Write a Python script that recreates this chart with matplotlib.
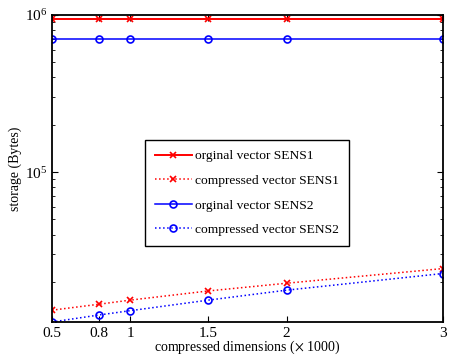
import matplotlib
matplotlib.use("Agg")
import matplotlib.pyplot as plt
from matplotlib.ticker import LogLocator, NullFormatter

plt.rcParams['font.family'] = ['Liberation Serif', 'DejaVu Serif']
plt.rcParams['mathtext.fontset'] = 'stix'

dims = [0.5, 0.8, 1, 1.5, 2, 3]
xtick_labels = ['0.5', '0.8', '1', '1.5', '2', '3']
orig_sens1 = [943000] * 6
comp_sens1 = [13200, 14400, 15300, 17500, 19600, 24300]
orig_sens2 = [703000] * 6
comp_sens2 = [11100, 12300, 13100, 15300, 17700, 22600]

fig = plt.figure(figsize=(4.54, 3.56), dpi=100)
ax = fig.add_axes([0.1145, 0.0955, 0.8613, 0.8624])

ax.plot(dims, orig_sens1, color='red', linestyle='-', marker='x', ms=4, mew=1.2, lw=1.4,
        label='orginal vector SENS1')
ax.plot(dims, comp_sens1, color='red', linestyle=':', marker='x', ms=4, mew=1.2, lw=1.1,
        label='compressed vector SENS1')
ax.plot(dims, orig_sens2, color='blue', linestyle='-', marker='o', ms=5, mew=1.2, lw=1.1,
        mfc='none', label='orginal vector SENS2')
ax.plot(dims, comp_sens2, color='blue', linestyle=':', marker='o', ms=5, mew=1.2, lw=1.1,
        mfc='none', label='compressed vector SENS2')

ax.set_yscale('log')
ax.set_xlim(0.5, 3)
ax.set_ylim(min(comp_sens2), 1e6)
ax.set_xticks(dims)
ax.set_xticklabels(xtick_labels)
ax.yaxis.set_minor_locator(LogLocator(base=10, subs=range(2, 10)))
ax.yaxis.set_minor_formatter(NullFormatter())
ax.tick_params(which='both', direction='in', top=True, right=True, labelsize=11)
ax.tick_params(which='major', length=4)
ax.tick_params(which='minor', length=2)
for s in ax.spines.values():
    s.set_linewidth(1.3)

ax.set_xlabel('compressed dimensions ($\\times$ 1000)', fontsize=10)
ax.xaxis.set_label_coords(0.5, -0.055)
ax.set_ylabel('storage (Bytes)', fontsize=10, labelpad=2)

leg = ax.legend(loc='upper left', bbox_to_anchor=(0.238, 0.593), borderaxespad=0,
                fontsize=9.7, numpoints=1,
                frameon=True, fancybox=False, edgecolor='black', framealpha=1,
                handlelength=2.7, handletextpad=0.25, borderpad=0.75, labelspacing=0.9)
leg.get_frame().set_linewidth(1.0)

fig.savefig('out.png', dpi=100)
